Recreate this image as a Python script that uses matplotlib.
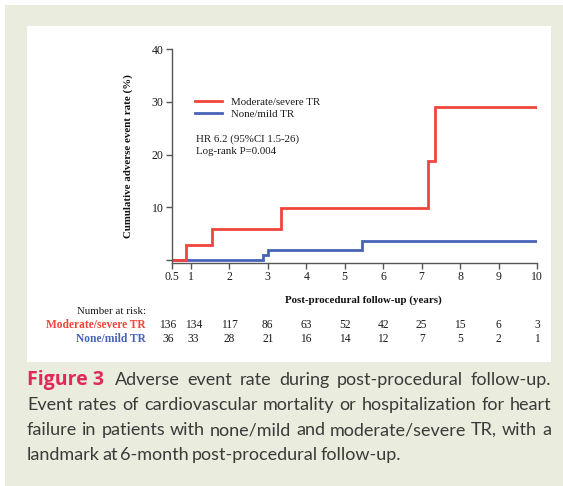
import matplotlib
matplotlib.use("Agg")
import matplotlib.pyplot as plt
import matplotlib.transforms as mtransforms
from matplotlib.patches import Rectangle

# data
red_t = [0.5, 0.865, 1.557, 3.346, 7.156, 7.357, 10]
red_y = [0, 2.8, 5.8, 9.9, 18.8, 29, 29]
blue_t = [0.5, 2.886, 3.016, 5.448, 10]
blue_y = [0, 0.9, 1.8, 3.6, 3.6]

risk_times = [0.5, 1, 2, 3, 4, 5, 6, 7, 8, 9, 10]
risk_red = [136, 134, 117, 86, 63, 52, 42, 25, 15, 6, 3]
risk_blue = [36, 33, 28, 21, 16, 14, 12, 7, 5, 2, 1]

xticks = [0.5, 1, 2, 3, 4, 5, 6, 7, 8, 9, 10]
xticklabels = ['0.5', '1', '2', '3', '4', '5', '6', '7', '8', '9', '10']
yticks = [0, 10, 20, 30, 40]
yticklabels = ['', '10', '20', '30', '40']

RED = '#f0453a'
BLUE = '#4763b8'
BEIGE = '#eaecdd'
W, H = 563, 486

serif = ['Liberation Serif', 'DejaVu Serif']
plt.rcParams['font.family'] = serif

fig = plt.figure(figsize=(W / 100, H / 100), dpi=100)
fig.patch.set_facecolor('white')

def px(x0, y0, x1, y1):
    # pixel box -> figure fraction rect
    return (x0 / W, 1 - y1 / H, (x1 - x0) / W, (y1 - y0) / H)

bx = px(5, 5, 563, 486)
fig.patches.append(Rectangle(bx[:2], bx[2], bx[3], transform=fig.transFigure,
                             facecolor=BEIGE, edgecolor='none', zorder=-2))
wx = px(27, 26, 551, 362)
fig.patches.append(Rectangle(wx[:2], wx[2], wx[3], transform=fig.transFigure,
                             facecolor='white', edgecolor='none', zorder=-1))

ax = fig.add_axes(px(171.7, 49.3, 537, 263))
ax.set_facecolor('none')
ax.plot(blue_t, blue_y, drawstyle='steps-post', color=BLUE, lw=2.0,
        label='None/mild TR', solid_joinstyle='miter')
ax.plot(red_t, red_y, drawstyle='steps-post', color=RED, lw=2.0,
        label='Moderate/severe TR', solid_joinstyle='miter')

ax.set_xlim(0.5, 10)
ax.set_ylim(-0.6, 40)
ax.set_xticks(xticks)
ax.set_xticklabels(xticklabels)
ax.set_yticks(yticks)
ax.set_yticklabels(yticklabels)
for s in ['top', 'right']:
    ax.spines[s].set_visible(False)
for s in ['left', 'bottom']:
    ax.spines[s].set_color('#555555')
    ax.spines[s].set_linewidth(1.0)
ax.tick_params(axis='both', colors='#555555', labelcolor='#1a1a1a',
               labelsize=8.5, length=4.5, width=1.0, pad=1.5)

ax.set_ylabel('Cumulative adverse event rate (%)', fontsize=7.8,
              fontweight='bold', color='#111111')
ax.yaxis.set_label_coords(-0.106, 0.5)
ax.set_xlabel('Post-procedural follow-up (years)', fontsize=7.8,
              fontweight='bold', color='#111111')
ax.xaxis.set_label_coords(0.525, -0.15)

h, l = ax.get_legend_handles_labels()
leg = ax.legend(h[::-1], l[::-1], loc='upper left',
                bbox_to_anchor=(195 / W, 1 - 97.5 / H),
                bbox_transform=fig.transFigure, frameon=False, fontsize=7.8,
                handlelength=2.5, handletextpad=0.8, labelspacing=0.2,
                borderpad=0, borderaxespad=0)
for t in leg.get_texts():
    t.set_color('#1a1a1a')

fig.text(196 / W, 1 - 139 / H, 'HR 6.2 (95%CI 1.5-26)', fontsize=7.8,
         va='center', color='#1a1a1a')
fig.text(196 / W, 1 - 151.7 / H, 'Log-rank P=0.004', fontsize=7.8,
         va='center', color='#1a1a1a')

# number at risk table
tr = mtransforms.blended_transform_factory(ax.transData, fig.transFigure)
fig.text(146 / W, 1 - 311.7 / H, 'Number at risk:', fontsize=7.8,
         ha='right', va='center', color='#1a1a1a')
fig.text(146 / W, 1 - 324.5 / H, 'Moderate/severe TR', fontsize=8.3,
         ha='right', va='center', color=RED, fontweight='bold')
fig.text(146 / W, 1 - 339 / H, 'None/mild TR', fontsize=8.3,
         ha='right', va='center', color=BLUE, fontweight='bold')
for i, (t, r, b) in enumerate(zip(risk_times, risk_red, risk_blue)):
    off = 0
    if i == 0:
        off = -0.1
    elif i == 1:
        off = 0.07
    ax.text(t + off, 1 - 324.5 / H, str(r), transform=tr, fontsize=8.3,
            ha='center', va='center', color='#1a1a1a')
    ax.text(t + off, 1 - 339 / H, str(b), transform=tr, fontsize=8.3,
            ha='center', va='center', color='#1a1a1a')

# caption, justified like the journal layout
cap_font = ['Lato', 'DejaVu Sans']
cap_lines = [
    'Adverse event rate during post-procedural follow-up.',
    'Event rates of cardiovascular mortality or hospitalization for heart',
    'failure in patients with none/mild and moderate/severe TR, with a',
    'landmark at 6-month post-procedural follow-up.',
]
cap_y = [380, 405, 430, 455]
cap_size = 13
right_px = 551
fig.canvas.draw()
rend = fig.canvas.get_renderer()
lab = fig.text(27 / W, 1 - cap_y[0] / H, 'Figure 3', fontsize=14,
               fontweight='bold', color='#e0295a',
               family=['Open Sans', 'DejaVu Sans'], va='center')
bb = lab.get_window_extent(rend)

for k, (line, y) in enumerate(zip(cap_lines, cap_y)):
    x0 = bb.x1 + 11 if k == 0 else 27
    words = line.split(' ')
    arts = [fig.text(0, 1 - y / H, w, fontsize=cap_size, color='#3a3a3a',
                     family=cap_font, va='center') for w in words]
    widths = [a.get_window_extent(rend).width for a in arts]
    if k < len(cap_lines) - 1:
        gap = (right_px - x0 - sum(widths)) / (len(words) - 1)
    else:
        gap = 2.5
    x = x0
    for a, wd in zip(arts, widths):
        a.set_x(x / W)
        x += wd + gap

fig.savefig('out.png', dpi=100)
